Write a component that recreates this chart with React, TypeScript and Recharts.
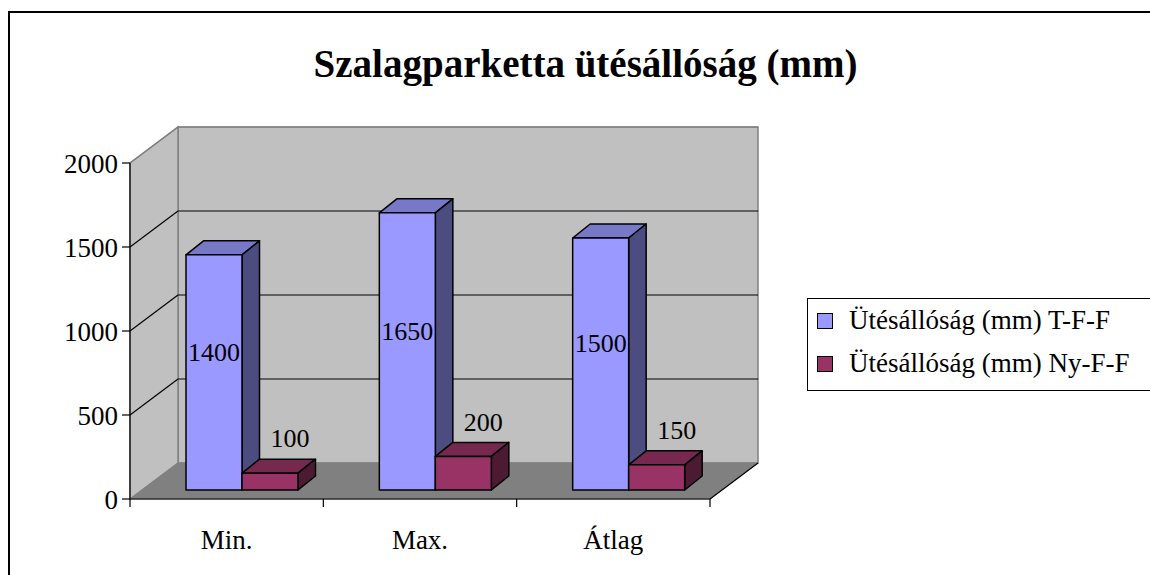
import React from "react";
import {
  BarChart,
  Bar,
  XAxis,
  YAxis,
  CartesianGrid,
  Legend,
  LabelList,
  Customized,
} from "recharts";

const categories = ["Min.", "Max.", "Átlag"];
const seriesTFF = [1400, 1650, 1500];
const seriesNYFF = [100, 200, 150];
const seriesNames = ["Ütésállóság (mm) T-F-F", "Ütésállóság (mm) Ny-F-F"];
const yTicks = [0, 500, 1000, 1500, 2000];
const title = "Szalagparketta ütésállóság (mm)";

const data = categories.map((c, i) => ({
  name: c,
  tff: seriesTFF[i],
  nyff: seriesNYFF[i],
}));

const W = 1150;
const H = 575;
const PLOT_LEFT = 130;
const PLOT_RIGHT = 710;
const PLOT_TOP = 163;
const PLOT_BOTTOM = 499;
const YAXIS_W = 60;
const XAXIS_H = 30;
// depth of the 3d box (floor / walls)
const DX = 48;
const DY = 36;
// bars sit a bit behind the front plane
const BAR_SHIFT_X = 15;
const BAR_SHIFT_Y = 9;
const BAR_DX = 17.5;
const BAR_DY = 14;
const FONT = "'Liberation Serif', 'Times New Roman', serif";

const BAND = (PLOT_RIGHT - PLOT_LEFT) / categories.length;

function walls() {
  const bx = PLOT_LEFT + DX;
  const by = PLOT_TOP - DY;
  const bx2 = PLOT_RIGHT + DX;
  const byb = PLOT_BOTTOM - DY;
  return (
    <g>
      <polygon
        points={`${bx},${by} ${bx2},${by} ${bx2},${byb} ${bx},${byb}`}
        fill="#c0c0c0"
        stroke="#808080"
        strokeWidth={1.5}
      />
      <polygon
        points={`${PLOT_LEFT},${PLOT_TOP} ${bx},${by} ${bx},${byb} ${PLOT_LEFT},${PLOT_BOTTOM}`}
        fill="#c0c0c0"
        stroke="#808080"
        strokeWidth={1.5}
      />
      <polygon
        points={`${PLOT_LEFT},${PLOT_BOTTOM} ${bx},${byb} ${bx2},${byb} ${PLOT_RIGHT},${PLOT_BOTTOM}`}
        fill="#808080"
        stroke="#808080"
      />
      <line x1={PLOT_RIGHT} y1={PLOT_BOTTOM} x2={bx2} y2={byb} stroke="#000" strokeWidth={1.2} />
    </g>
  );
}

function Title() {
  return (
    <text
      x={585.5}
      y={77}
      textAnchor="middle"
      fontFamily={FONT}
      fontWeight="bold"
      fontSize={39}
      fill="#000"
    >
      {title}
    </text>
  );
}

// grid lines: the first one also paints the walls and floor underneath
function gridLine(props: any) {
  const { x1, x2, y1, index } = props;
  const isTop = Math.abs(y1 - PLOT_TOP) < 1;
  const isBottom = Math.abs(y1 - PLOT_BOTTOM) < 1;
  const col = isTop ? "#808080" : "#000";
  return (
    <g key={`g-${index}`}>
      {index === 0 && walls()}
      {!isBottom && (
        <>
          <line x1={x1} y1={y1} x2={x1 + DX} y2={y1 - DY} stroke={col} strokeWidth={1.2} />
          <line x1={x1 + DX} y1={y1 - DY} x2={x2 + DX} y2={y1 - DY} stroke={col} strokeWidth={1.2} />
        </>
      )}
    </g>
  );
}

function makeBox(front: string, top: string, side: string) {
  return (props: any) => {
    const { x, y, width, height } = props;
    if (width == null || height == null) return <g />;
    const fx = x + BAR_SHIFT_X;
    const fy = y - BAR_SHIFT_Y;
    const r = fx + width;
    const b = fy + height;
    return (
      <g stroke="#000" strokeWidth={1.5} strokeLinejoin="round">
        <polygon
          points={`${fx},${fy} ${fx + BAR_DX},${fy - BAR_DY} ${r + BAR_DX},${fy - BAR_DY} ${r},${fy}`}
          fill={top}
        />
        <polygon
          points={`${r},${fy} ${r + BAR_DX},${fy - BAR_DY} ${r + BAR_DX},${b - BAR_DY} ${r},${b}`}
          fill={side}
        />
        <rect x={fx} y={fy} width={width} height={height} fill={front} />
      </g>
    );
  };
}

function getBox(props: any) {
  const vb = props.viewBox || {};
  const x = props.x ?? vb.x;
  const y = props.y ?? vb.y;
  const width = props.width ?? vb.width;
  const height = props.height ?? vb.height;
  return { x, y, width, height };
}

function insideLabel(props: any) {
  const { x, y, width, height } = getBox(props);
  const cx = x + BAR_SHIFT_X + width / 2;
  const cy = y - BAR_SHIFT_Y + height / 2 - 21;
  return (
    <text
      key={`in-${props.index}`}
      x={cx}
      y={cy}
      dy="0.35em"
      textAnchor="middle"
      fontFamily={FONT}
      fontSize={26}
      fill="#000"
    >
      {props.value}
    </text>
  );
}

function aboveLabel(props: any) {
  const { x, y, width } = getBox(props);
  const cx = x + BAR_SHIFT_X + width / 2 + 20;
  const cy = y - BAR_SHIFT_Y - 35;
  return (
    <text
      key={`ab-${props.index}`}
      x={cx}
      y={cy}
      dy="0.35em"
      textAnchor="middle"
      fontFamily={FONT}
      fontSize={26}
      fill="#000"
    >
      {props.value}
    </text>
  );
}

function xTick(props: any) {
  const { x, payload, index } = props;
  const left = x - BAND / 2;
  const right = x + BAND / 2;
  return (
    <g>
      <line x1={left} y1={PLOT_BOTTOM} x2={left} y2={PLOT_BOTTOM + 8} stroke="#000" strokeWidth={1.2} />
      {index === categories.length - 1 && (
        <line x1={right} y1={PLOT_BOTTOM} x2={right} y2={PLOT_BOTTOM + 8} stroke="#000" strokeWidth={1.2} />
      )}
      <text x={x} y={PLOT_BOTTOM + 50} textAnchor="middle" fontFamily={FONT} fontSize={27} fill="#000">
        {payload.value}
      </text>
    </g>
  );
}

function LegendBox(props: any) {
  const items = [...(props.payload || [])].sort(
    (a: any, b: any) => seriesNames.indexOf(a.value) - seriesNames.indexOf(b.value)
  );
  return (
    <div
      style={{
        border: "1px solid #000",
        background: "#fff",
        boxSizing: "border-box",
        height: 93,
        width: 360,
        fontFamily: FONT,
        fontSize: 27,
        color: "#000",
      }}
    >
      {items.map((it: any) => (
        <div
          key={it.value}
          style={{ height: 43, display: "flex", alignItems: "center", whiteSpace: "nowrap" }}
        >
          <span
            style={{
              display: "inline-block",
              width: 14,
              height: 14,
              marginLeft: 9,
              marginRight: 16,
              background: it.color,
              border: "1.5px solid #000",
            }}
          />
          <span>{it.value}</span>
        </div>
      ))}
    </div>
  );
}

export default function App() {
  return (
    <div style={{ position: "absolute", left: 0, top: 0, width: W, height: H, overflow: "hidden", background: "#fff" }}>
      <div
        style={{
          position: "absolute",
          left: 8,
          top: 11,
          width: W + 100,
          height: H + 100,
          borderLeft: "2px solid #000",
          borderTop: "2px solid #000",
        }}
      />
      <div style={{ position: "absolute", left: 0, top: 0 }}>
        <BarChart
          width={W}
          height={H}
          data={data}
          margin={{
            top: PLOT_TOP,
            left: PLOT_LEFT - YAXIS_W,
            right: W - PLOT_RIGHT,
            bottom: H - PLOT_BOTTOM - XAXIS_H,
          }}
          barGap={0}
        >
          <Customized component={<Title />} />
          <CartesianGrid vertical={false} horizontal={gridLine} />
          <XAxis
            dataKey="name"
            height={XAXIS_H}
            axisLine={{ stroke: "#000", strokeWidth: 1.2 }}
            tickLine={false}
            tick={xTick}
            interval={0}
          />
          <YAxis
            width={YAXIS_W}
            domain={[0, 2000]}
            ticks={yTicks}
            axisLine={{ stroke: "#000", strokeWidth: 1.2 }}
            tickLine={{ stroke: "#000", strokeWidth: 1.2 }}
            tickSize={8}
            tickMargin={4}
            tick={{ fill: "#000", fontSize: 27, fontFamily: FONT }}
          />
          <Legend
            layout="horizontal"
            verticalAlign="middle"
            align="center"
            itemSorter={null}
            content={<LegendBox />}
            wrapperStyle={{ position: "absolute", left: 807, top: 298, width: 360 }}
          />
          <Bar
            dataKey="tff"
            name={seriesNames[0]}
            fill="#9999ff"
            barSize={56}
            isAnimationActive={false}
            shape={makeBox("#9999ff", "#7878c8", "#4c4c80")}
          >
            <LabelList dataKey="tff" content={insideLabel} />
          </Bar>
          <Bar
            dataKey="nyff"
            name={seriesNames[1]}
            fill="#993366"
            barSize={56}
            isAnimationActive={false}
            shape={makeBox("#993366", "#77284f", "#4c1a33")}
          >
            <LabelList dataKey="nyff" content={aboveLabel} />
          </Bar>
        </BarChart>
      </div>
    </div>
  );
}
